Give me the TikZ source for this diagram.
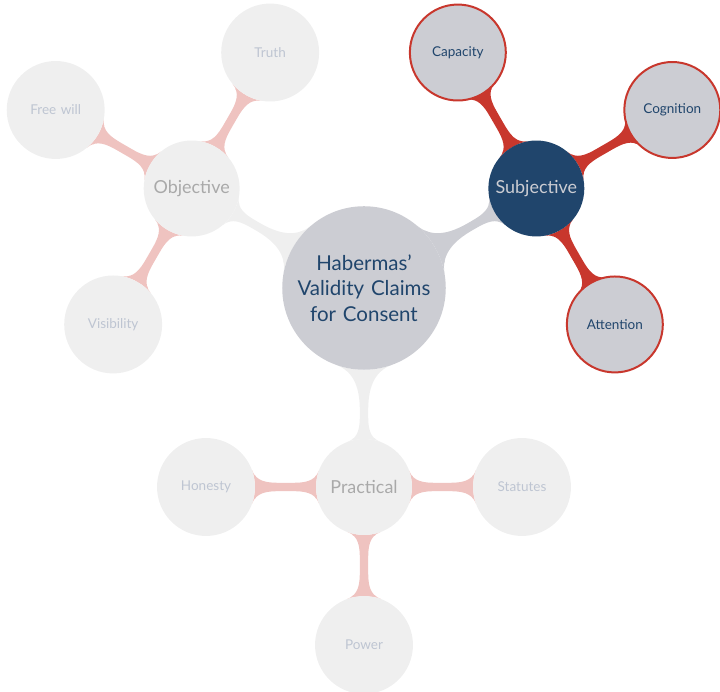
\documentclass[tikz,border=0pt]{standalone}
\usepackage{fontspec}
\setmainfont{Lato}
\usetikzlibrary{mindmap,backgrounds}
\definecolor{rootgray}{RGB}{204,205,211}
\definecolor{navy}{RGB}{32,69,108}
\definecolor{brick}{RGB}{200,55,45}
\definecolor{fade}{RGB}{239,239,239}
\definecolor{fadepink}{RGB}{239,195,192}
\definecolor{fadetext}{RGB}{169,169,169}
\definecolor{fadeleaf}{RGB}{190,197,210}

\begin{document}
\begin{tikzpicture}[x=0.7025pt, y=0.7025pt,
    mindmap,
    rootnode/.style={circle, fill=rootgray, text=navy, minimum size=113.8pt, inner sep=0pt,
      text width=105pt, align=center, font=\fontsize{14.4}{18}\selectfont},
    subnode/.style={circle, fill=navy, text=rootgray, minimum size=67.4pt, inner sep=0pt,
      text width=63pt, align=center, font=\fontsize{12.6}{15}\selectfont},
    leafnode/.style={circle, fill=rootgray, draw=brick, line width=1.4pt, text=navy,
      minimum size=67.4pt, inner sep=0pt, text width=63pt, align=center,
      font=\fontsize{9.5}{12}\selectfont},
    fadesub/.style={subnode, fill=fade, text=fadetext},
    fadeleafnode/.style={leafnode, draw=none, minimum size=68.8pt, fill=fade, text=fadeleaf},
    bar/.style={line width=5.8pt}]
  \useasboundingbox (0,0) rectangle (720,692);

  \node[rootnode] (root) at (364,404) {Habermas'\\ Validity Claims\\ for Consent};

  % subjective branch
  \node[subnode] (subj) at ([shift={(30:199)}]root) {Subjective};
  \node[leafnode] (capa) at ([shift={(120:157)}]subj) {Capacity};
  \node[leafnode] (cogn) at ([shift={(30:157)}]subj) {Cognition};
  \node[leafnode] (atte) at ([shift={(-60:157)}]subj) {Attention};

  % objective branch
  \node[fadesub] (obj) at ([shift={(150:199)}]root) {Objective};
  \node[fadeleafnode] (trut) at ([shift={(60:157)}]obj) {Truth};
  \node[fadeleafnode] (free) at ([shift={(150:157)}]obj) {Free will};
  \node[fadeleafnode] (visi) at ([shift={(240:157)}]obj) {Visibility};

  % practical branch
  \node[fadesub] (prac) at ([shift={(270:199)}]root) {Practical};
  \node[fadeleafnode] (hone) at ([shift={(180:158)}]prac) {Honesty};
  \node[fadeleafnode] (stat) at ([shift={(0:158)}]prac) {Statutes};
  \node[fadeleafnode] (powe) at ([shift={(270:158)}]prac) {Power};

  \begin{pgfonlayer}{background}
    \path[bar] (root) to[circle connection bar switch color=from (rootgray) to (rootgray)] (subj);
    \path[bar] (root) to[circle connection bar switch color=from (fade) to (fade)] (obj);
    \path[bar] (root) to[circle connection bar switch color=from (fade) to (fade)] (prac);
    \foreach \leaf in {capa,cogn,atte}
      \path[bar] (subj) to[circle connection bar switch color=from (brick) to (brick)] (\leaf);
    \foreach \leaf in {trut,free,visi}
      \path[bar] (obj) to[circle connection bar switch color=from (fadepink) to (fadepink)] (\leaf);
    \foreach \leaf in {hone,stat,powe}
      \path[bar] (prac) to[circle connection bar switch color=from (fadepink) to (fadepink)] (\leaf);
  \end{pgfonlayer}
\end{tikzpicture}
\end{document}
